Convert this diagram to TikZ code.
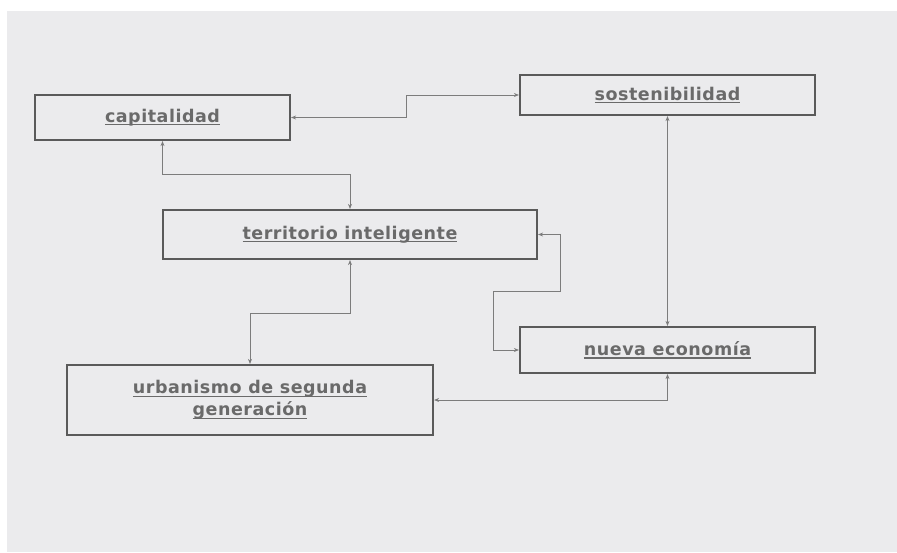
\documentclass[tikz,border=0pt]{standalone}
\usepackage{fontspec}
\setmainfont{DejaVu Sans}[LetterSpace=3]
\usetikzlibrary{arrows.meta}
\definecolor{bggray}{HTML}{EBEBED}
\definecolor{boxline}{HTML}{5A5A5A}
\definecolor{txtgray}{HTML}{6A6A6A}
\definecolor{linegray}{HTML}{7C7C7C}
\newcommand{\myul}[1]{{\setbox0\hbox{#1}\rlap{\rule[-3pt]{\wd0}{1.1pt}}\box0}}
\tikzset{
  box/.style={draw=boxline, line width=2.2pt, rectangle, inner sep=0pt,
    text=txtgray, font=\fontsize{17.5}{22}\selectfont\bfseries, align=center},
  conn/.style={draw=linegray, line width=0.9pt,
    {Stealth[length=5pt,width=4pt]}-{Stealth[length=5pt,width=4pt]}}
}
\begin{document}
\begin{tikzpicture}[x=1pt,y=-1pt]
\useasboundingbox (0,0) rectangle (897,552);
\fill[white] (0,0) rectangle (897,552);
\fill[bggray] (7,11) rectangle (897,552);
% nodes
\node[box, minimum width=255pt, minimum height=45pt] (cap) at (162.5,117.5) {\myul{capitalidad}};
\node[box, minimum width=295pt, minimum height=40pt] (sos) at (667.5,95) {\myul{sostenibilidad}};
\node[box, minimum width=374pt, minimum height=49pt] (terr) at (350,234.5) {\myul{territorio inteligente}};
\node[box, minimum width=295pt, minimum height=46pt] (nueva) at (667.5,350) {\myul{nueva economía}};
\node[box, minimum width=366pt, minimum height=70pt] (urb) at (250,400) {\myul{urbanismo de segunda}\\\myul{generación}};
% connectors
\draw[conn] (cap.east) -- ++(115,0) |- (sos.west);
\draw[conn] (cap.south) |- (350,174) -- (terr.north);
\draw[conn] (terr.south) -- ++(0,53) -| (urb.north);
\draw[conn] (terr.east) -- ++(22,0) |- (493,291) |- (nueva.west);
\draw[conn] (sos.south) -- (nueva.north);
\draw[conn] (nueva.south) |- (urb.east);
\end{tikzpicture}
\end{document}
